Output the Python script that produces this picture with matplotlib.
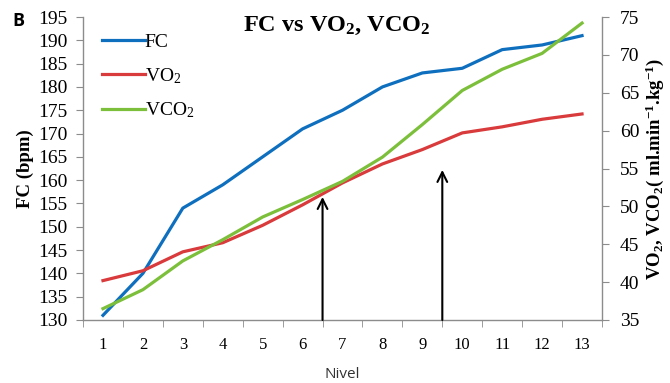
#!/usr/bin/env python3
"""FC vs VO2, VCO2 por nivel."""

import matplotlib as mpl
mpl.use("Agg")
import matplotlib.pyplot as plt

# datos
niveles = list(range(1, 14))
fc = [131, 140, 154, 159, 165, 171, 175, 180, 183, 184, 188, 189, 191]
vo2 = [40.2, 41.5, 44.0, 45.2, 47.5, 50.2, 53.1, 55.6, 57.5, 59.7, 60.5, 61.5, 62.2]
vco2 = [36.5, 39.0, 42.8, 45.6, 48.6, 50.9, 53.3, 56.5, 60.8, 65.3, 68.1, 70.2, 74.2]
flechas_x = [6.5, 9.5]
flechas_y = [156.4, 162.2]

mpl.rcParams.update({
    "font.family": "Liberation Serif",
    "mathtext.fontset": "custom",
    "mathtext.default": "regular",
    "mathtext.rm": "Liberation Serif",
    "mathtext.bf": "Liberation Serif:bold",
})

AZUL = "#0F6FBF"
ROJO = "#D93A3C"
VERDE = "#7CBF3A"
GRIS = "#8C8C8C"

fig = plt.figure(figsize=(6.7, 3.83), dpi=100)
ax = fig.add_axes([0.1239, 0.1645, 0.7746, 0.7911])
ax2 = ax.twinx()

ax.plot(niveles, fc, color=AZUL, lw=2.3, label="FC")
ax2.plot(niveles, vo2, color=ROJO, lw=2.3, label="VO$_2$")
ax2.plot(niveles, vco2, color=VERDE, lw=2.3, label="VCO$_2$")

ax.set_xlim(0.5, 13.5)
ax.set_ylim(130, 195)
ax2.set_ylim(35, 75)
ax.set_yticks(range(130, 196, 5))
ax2.set_yticks(range(35, 76, 5))
ax.set_xticks(niveles)
ax.set_xticks([n + 0.5 for n in range(0, 14)], minor=True)

for a in (ax, ax2):
    for s in a.spines.values():
        s.set_visible(False)
ax.spines["left"].set_visible(True)
ax.spines["bottom"].set_visible(True)
ax2.spines["right"].set_visible(True)
for s in (ax.spines["left"], ax.spines["bottom"], ax2.spines["right"]):
    s.set_color(GRIS)
    s.set_linewidth(1.0)

ax.tick_params(axis="x", which="major", length=0, labelsize=12, pad=12)
ax.tick_params(axis="x", which="minor", length=5, color=GRIS, direction="out")
ax.tick_params(axis="y", length=5, color=GRIS, labelsize=14, pad=6)
ax2.tick_params(axis="y", length=5, color=GRIS, labelsize=14, pad=8)

for xa, ya in zip(flechas_x, flechas_y):
    ax.annotate("", xy=(xa, ya), xytext=(xa, 130),
                arrowprops=dict(arrowstyle="->,head_length=0.7,head_width=0.35",
                                lw=1.5, color="black", shrinkA=0, shrinkB=0))

ax.set_ylabel("FC (bpm)", fontsize=13.5, fontweight="bold", labelpad=3)
ax2.set_ylabel("VO$_2$, VCO$_2$( ml.min$^{-1}$.kg$^{-1}$)", fontsize=13.5,
               fontweight="bold", labelpad=3)
ax.set_xlabel("Nivel", fontsize=11, family="Open Sans", color="#333333", labelpad=10)

fig.text(0.502, 0.932, "FC vs VO$_2$, VCO$_2$", fontsize=17.5, fontweight="bold",
         ha="center", va="center")
fig.text(0.019, 0.945, "B", fontsize=13, fontweight="bold", family="Open Sans",
         ha="left", va="center")

h1, l1 = ax.get_legend_handles_labels()
h2, l2 = ax2.get_legend_handles_labels()
ax2.legend(h1 + h2, l1 + l2, loc="upper left", bbox_to_anchor=(0.01, 0.992),
           frameon=False, fontsize=14, handlelength=2.2, handletextpad=0.0,
           labelspacing=0.78, borderaxespad=0.3)

fig.savefig("out.png", dpi=100)
